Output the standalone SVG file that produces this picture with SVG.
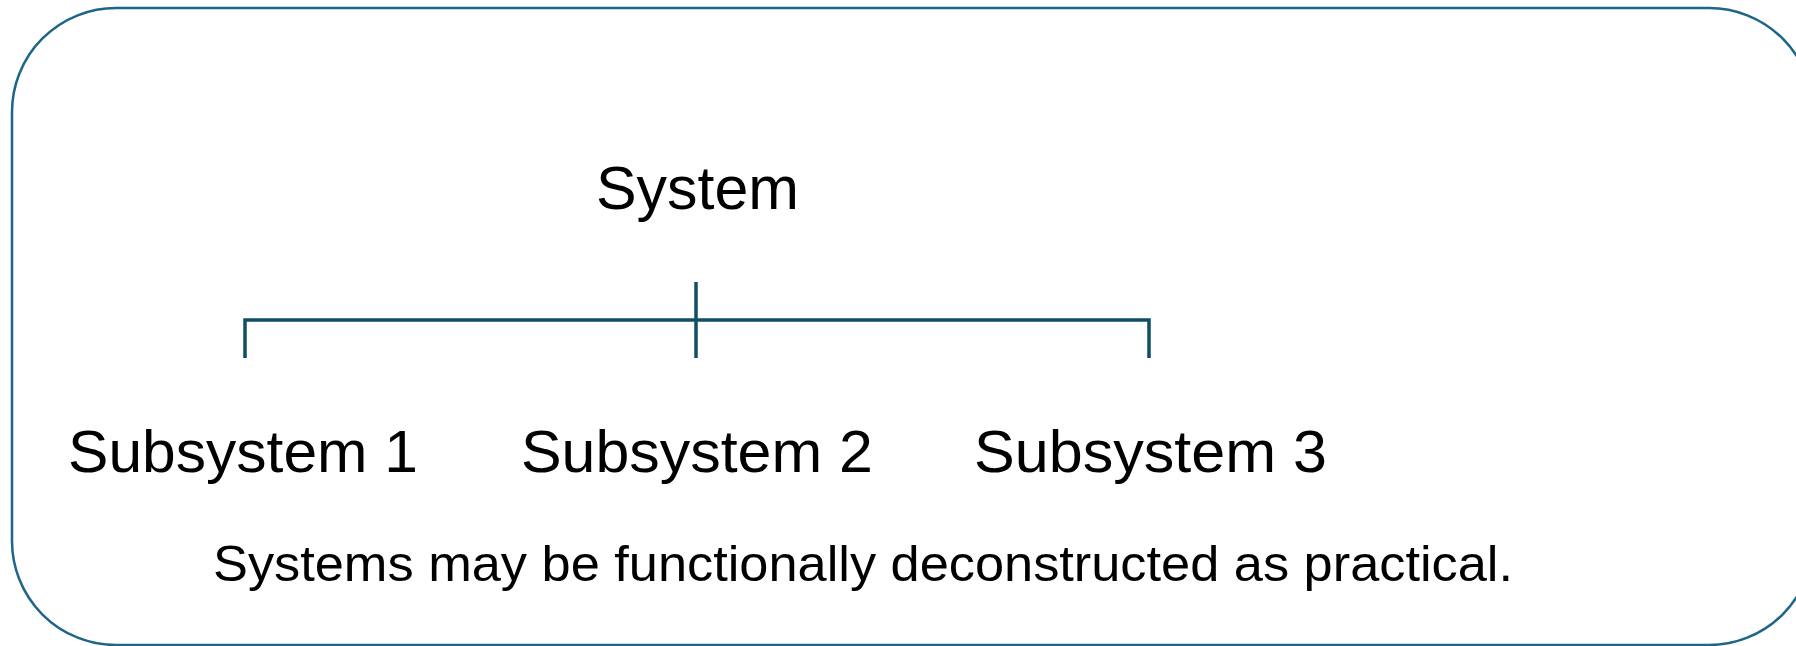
<svg xmlns="http://www.w3.org/2000/svg" width="1796" height="646" viewBox="0 0 1796 646">
<style>
.frame{fill:#fff;stroke:#1d6687;stroke-width:2.5}
.conn{fill:none;stroke:#104e66;stroke-width:3.5}
.t{font-family:"Liberation Sans",Arial,sans-serif;fill:#000}
</style>
<rect width="1796" height="646" fill="#fff"/>
<g id="frame"><rect class="frame" x="12" y="8" width="1801" height="637" rx="104" ry="104"/></g>
<g id="connectors">
<path class="conn" d="M245 358 V320 H1149 V358"/>
<path class="conn" d="M696 282 V358"/>
</g>
<g id="system"><text class="t" x="596" y="209" font-size="61" textLength="203" lengthAdjust="spacingAndGlyphs">System</text></g>
<g id="sub1"><text class="t" x="68" y="472" font-size="60" textLength="350" lengthAdjust="spacingAndGlyphs">Subsystem 1</text></g>
<g id="sub2"><text class="t" x="521" y="472" font-size="60" textLength="352" lengthAdjust="spacingAndGlyphs">Subsystem 2</text></g>
<g id="sub3"><text class="t" x="974" y="472" font-size="60" textLength="353" lengthAdjust="spacingAndGlyphs">Subsystem 3</text></g>
<g id="caption"><text class="t" x="213" y="581" font-size="50" textLength="1300" lengthAdjust="spacingAndGlyphs">Systems may be functionally deconstructed as practical.</text></g>
</svg>
